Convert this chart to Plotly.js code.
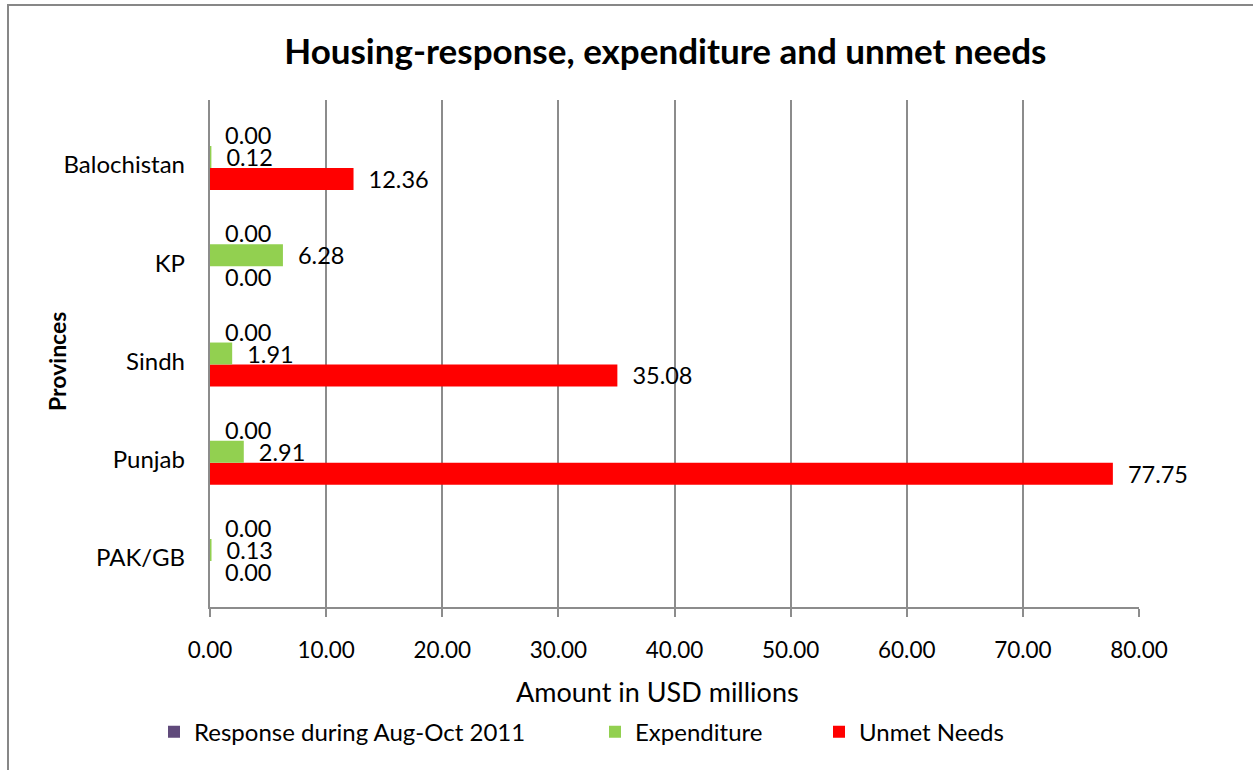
<!DOCTYPE html>
<html>
<head>
<meta charset="utf-8">
<script src="https://cdn.plot.ly/plotly-3.0.1.min.js"></script>
<style>
  html, body { margin: 0; padding: 0; background: #fff; overflow: hidden; }
  #chart { width: 1253px; height: 770px; position: absolute; left: 0; top: 0; }
  #frame { position: absolute; left: 7px; top: 4px; width: 1300px; height: 900px;
           border: 2px solid #878787; pointer-events: none; }
</style>
</head>
<body>
<div id="chart"></div>
<div id="frame"></div>
<script>
// ---- data ----
const provinces   = ['PAK/GB', 'Punjab', 'Sindh', 'KP', 'Balochistan'];
const response    = [0.00, 0.00, 0.00, 0.00, 0.00];
const expenditure = [0.13, 2.91, 1.91, 6.28, 0.12];
const unmet       = [0.00, 77.75, 35.08, 0.00, 12.36];
const xTickVals   = [0, 10, 20, 30, 40, 50, 60, 70, 80];
const xTickText   = ['0.00', '10.00', '20.00', '30.00', '40.00', '50.00', '60.00', '70.00', '80.00'];
const seriesNames = ['Response during Aug-Oct 2011', 'Expenditure', 'Unmet Needs'];
const chartTitle  = 'Housing-response, expenditure and unmet needs';
const xTitle      = 'Amount in USD millions';
const yTitle      = 'Provinces';

const FONT = 'Lato, "Open Sans", sans-serif';
const pad = '\u00a0\u00a0';

function barTrace(name, values, color, legendId) {
  return {
    type: 'bar',
    orientation: 'h',
    name: name,
    y: provinces,
    x: values,
    text: values.map(v => pad + v.toFixed(2)),
    textposition: 'outside',
    constraintext: 'none',
    cliponaxis: false,
    textfont: { family: FONT, size: 23.5, color: '#000' },
    marker: { color: color, line: { width: 0 } },
    legend: legendId,
    hoverinfo: 'x+y+name'
  };
}

// Plotly stacks grouped horizontal bars bottom-up, so add bottom series first
const data = [
  barTrace(seriesNames[2], unmet, '#FF0000', 'legend3'),
  barTrace(seriesNames[1], expenditure, '#92D050', 'legend2'),
  barTrace(seriesNames[0], response, '#604A7B', 'legend'),
  // empty helper trace so the category-label axis (y2) is drawn
  { type: 'scatter', mode: 'markers', x: [], y: [], yaxis: 'y2', showlegend: false, hoverinfo: 'skip' }
];

const plotL = 210, plotR = 1139, plotT = 100, plotB = 607;
const plotW = plotR - plotL, plotH = plotB - plotT;
function px2paperX(px) { return (px - plotL) / plotW; }
function px2paperY(py) { return (plotB - py) / plotH; }

const legendCommon = {
  orientation: 'h',
  yanchor: 'middle',
  y: -0.247,
  xanchor: 'left',
  font: { family: FONT, size: 24, color: '#000' },
  bgcolor: 'rgba(0,0,0,0)',
  itemwidth: 30,
  tracegroupgap: 0
};

const yRange = [-0.58, 4.58];
const labelShift = 0.08; // category labels sit slightly below the bar groups

const layout = {
  width: 1253,
  height: 770,
  margin: { l: plotL, r: 1253 - plotR, t: plotT, b: 770 - plotB },
  paper_bgcolor: '#fff',
  plot_bgcolor: '#fff',
  barmode: 'group',
  bargap: 0.33,
  bargroupgap: 0,
  font: { family: FONT, size: 20, color: '#000' },
  title: {
    text: '<b>' + chartTitle + '</b>',
    font: { family: FONT, size: 35, color: '#000' },
    x: 0.531, xanchor: 'center', xref: 'container',
    y: 1 - 52 / 770, yanchor: 'middle', yref: 'container'
  },
  xaxis: {
    range: [0, 80],
    tickvals: xTickVals,
    ticktext: xTickText,
    showgrid: true,
    gridcolor: '#8c8c8c',
    gridwidth: 2,
    zeroline: false,
    showline: true,
    linecolor: '#8c8c8c',
    linewidth: 2,
    ticks: 'outside',
    ticklen: 8,
    tickwidth: 2,
    tickcolor: '#8c8c8c',
    ticklabelstandoff: 14,
    tickfont: { family: FONT, size: 22.5, color: '#000' },
    fixedrange: true
  },
  yaxis: {
    type: 'category',
    categoryorder: 'array',
    categoryarray: provinces,
    range: yRange,
    showgrid: false,
    zeroline: false,
    showline: true,
    linecolor: '#8c8c8c',
    linewidth: 2,
    ticks: '',
    showticklabels: false,
    fixedrange: true
  },
  yaxis2: {
    overlaying: 'y',
    side: 'left',
    type: 'linear',
    range: [yRange[0] + labelShift, yRange[1] + labelShift],
    tickmode: 'array',
    tickvals: provinces.map((_, i) => i),
    ticktext: provinces,
    showgrid: false,
    zeroline: false,
    showline: false,
    ticks: '',
    ticklabelstandoff: 24,
    tickfont: { family: FONT, size: 24, color: '#000' },
    fixedrange: true
  },
  annotations: [
    {
      text: xTitle, xref: 'paper', yref: 'paper',
      x: px2paperX(657), y: px2paperY(691), xanchor: 'center', yanchor: 'middle',
      showarrow: false, font: { family: FONT, size: 27, color: '#000' }
    },
    {
      text: '<b>' + yTitle + '</b>', xref: 'paper', yref: 'paper', textangle: -90,
      x: px2paperX(57), y: px2paperY(362), xanchor: 'center', yanchor: 'middle',
      showarrow: false, font: { family: FONT, size: 23, color: '#000' }
    }
  ],
  showlegend: true,
  legend:  Object.assign({}, legendCommon, { x: px2paperX(154) }),
  legend2: Object.assign({}, legendCommon, { x: px2paperX(595) }),
  legend3: Object.assign({}, legendCommon, { x: px2paperX(819) })
};

Plotly.newPlot('chart', data, layout, { displayModeBar: false, staticPlot: true });
</script>
</body>
</html>
